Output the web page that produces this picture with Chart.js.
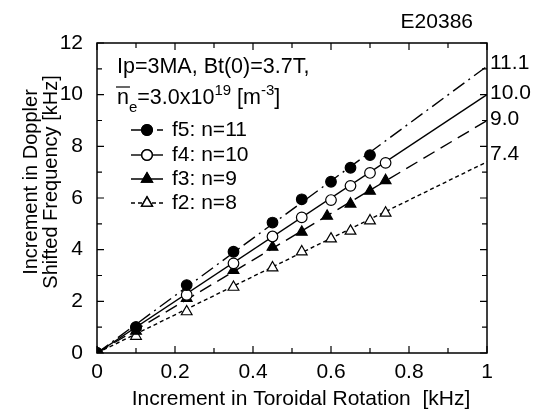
<!DOCTYPE html>
<html lang="en">
  <head>
    <meta charset="UTF-8" />
    <title>Doppler Shift vs Toroidal Rotation</title>
    <style>
      body {
        margin: 0;
        padding: 0;
        background-color: #fff;
      }
      .chart-container {
        width: 536px;
        height: 411px;
        position: relative;
      }
    </style>
  </head>
  <body>
    <div class="chart-container">
      <canvas id="dopplerChart"></canvas>
    </div>

    <script src="https://cdn.jsdelivr.net/npm/chart.js"></script>
    <script>
      // series names and measured points
      const seriesLabels = ["f5: n=11", "f4: n=10", "f3: n=9", "f2: n=8"];
      const f5X = [0, 0.1, 0.23, 0.35, 0.45, 0.525, 0.6, 0.65, 0.7];
      const f5Y = [0, 1.0, 2.63, 3.92, 5.05, 5.95, 6.63, 7.17, 7.66];
      const f4X = [0, 0.1, 0.23, 0.35, 0.45, 0.525, 0.6, 0.65, 0.7, 0.74];
      const f4Y = [0, 1.0, 2.25, 3.47, 4.51, 5.25, 5.92, 6.47, 6.97, 7.36];
      const f3X = [0, 0.1, 0.23, 0.35, 0.45, 0.525, 0.59, 0.65, 0.7, 0.74];
      const f3Y = [0, 0.85, 2.12, 3.2, 4.1, 4.68, 5.3, 5.77, 6.27, 6.68];
      const f2X = [0, 0.1, 0.23, 0.35, 0.45, 0.525, 0.6, 0.65, 0.7, 0.74];
      const f2Y = [0, 0.65, 1.6, 2.55, 3.3, 3.92, 4.42, 4.72, 5.12, 5.42];
      // fitted slopes (kHz / kHz), labelled on the right
      const slopes = [11.1, 10.0, 9.0, 7.4];
      const slopeLabels = ["11.1", "10.0", "9.0", "7.4"];
      const xTicks = [0, 0.2, 0.4, 0.6, 0.8, 1];
      const yTicks = [0, 2, 4, 6, 8, 10, 12];

      const FONT = "'Liberation Sans', Arial, sans-serif";
      const markerStyles = [
        { style: "circle", fill: "#000", r: 5.3 },
        { style: "circle", fill: "#fff", r: 5.3 },
        { style: "triangle", fill: "#000", r: 6.2 },
        { style: "triangle", fill: "#fff", r: 6.2 },
      ];
      const dashes = [[14, 5, 2, 5], [], [13, 7], [4, 3]];

      function toPoints(xs, ys) {
        return xs.map((x, i) => ({ x: x, y: ys[i] }));
      }

      const pointSets = [
        toPoints(f5X, f5Y),
        toPoints(f4X, f4Y),
        toPoints(f3X, f3Y),
        toPoints(f2X, f2Y),
      ];

      const datasets = [];
      pointSets.forEach((pts, i) => {
        datasets.push({
          label: seriesLabels[i],
          data: pts,
          showLine: false,
          pointStyle: markerStyles[i].style,
          pointRadius: markerStyles[i].r,
          pointBackgroundColor: markerStyles[i].fill,
          pointBorderColor: "#000",
          pointBorderWidth: 1.2,
          order: 0,
        });
      });
      slopes.forEach((s, i) => {
        datasets.push({
          label: "fit " + slopeLabels[i],
          data: [
            { x: 0, y: 0 },
            { x: 1, y: s },
          ],
          borderColor: "#000",
          borderWidth: 1.4,
          borderDash: dashes[i],
          pointRadius: 0,
          fill: false,
          order: 1,
        });
      });

      const decorPlugin = {
        id: "decor",
        afterDraw(chart) {
          const ctx = chart.ctx;
          const a = chart.chartArea;
          const xs = chart.scales.x;
          const ys = chart.scales.y;
          ctx.save();
          ctx.strokeStyle = "#000";
          ctx.fillStyle = "#000";

          // frame
          ctx.lineWidth = 1.5;
          ctx.strokeRect(a.left, a.top, a.right - a.left, a.bottom - a.top);

          // inward ticks
          ctx.lineWidth = 1.2;
          for (let k = 0; k <= 10; k++) {
            const px = xs.getPixelForValue(k / 10);
            const len = k % 2 === 0 ? 7 : 5;
            ctx.beginPath();
            ctx.moveTo(px, a.bottom);
            ctx.lineTo(px, a.bottom - len);
            ctx.moveTo(px, a.top);
            ctx.lineTo(px, a.top + len);
            ctx.stroke();
          }
          for (let k = 0; k <= 12; k++) {
            const py = ys.getPixelForValue(k);
            const len = k % 2 === 0 ? 7 : 5;
            ctx.beginPath();
            ctx.moveTo(a.left, py);
            ctx.lineTo(a.left + len, py);
            ctx.moveTo(a.right, py);
            ctx.lineTo(a.right - len, py);
            ctx.stroke();
          }

          // slope labels at right
          ctx.font = "21px " + FONT;
          ctx.textBaseline = "middle";
          ctx.textAlign = "left";
          const labelShift = [0.1, 0.05, 0.05, 0.3];
          slopes.forEach((s, i) => {
            const py = ys.getPixelForValue(s + labelShift[i]);
            ctx.fillText(slopeLabels[i], a.right + 3, py);
          });

          // figure id
          ctx.font = "21px " + FONT;
          ctx.textAlign = "right";
          ctx.fillText("E20386", 473, 22);

          // conditions text
          ctx.textAlign = "left";
          ctx.textBaseline = "alphabetic";
          ctx.font = "21.5px " + FONT;
          ctx.fillText("Ip=3MA, Bt(0)=3.7T,", 117, 73);
          let x = 117;
          const base = 104;
          ctx.fillText("n", x, base);
          const nW = ctx.measureText("n").width;
          ctx.lineWidth = 1.2;
          ctx.beginPath();
          ctx.moveTo(x - 1, 87);
          ctx.lineTo(x + nW + 1, 87);
          ctx.stroke();
          x += nW;
          ctx.font = "15px " + FONT;
          ctx.fillText("e", x, base + 8);
          x += ctx.measureText("e").width;
          ctx.font = "21.5px " + FONT;
          ctx.fillText("=3.0x10", x, base);
          x += ctx.measureText("=3.0x10").width;
          ctx.font = "15px " + FONT;
          ctx.fillText("19", x, base - 9);
          x += ctx.measureText("19").width;
          ctx.font = "21.5px " + FONT;
          ctx.fillText(" [m", x, base);
          x += ctx.measureText(" [m").width;
          ctx.font = "15px " + FONT;
          ctx.fillText("-3", x, base - 9);
          x += ctx.measureText("-3").width;
          ctx.font = "21.5px " + FONT;
          ctx.fillText("]", x, base);

          // legend
          const rows = [130, 155, 179, 203];
          seriesLabels.forEach((lab, i) => {
            const cy = rows[i];
            ctx.lineWidth = 1.4;
            ctx.setLineDash(dashes[i]);
            ctx.beginPath();
            ctx.moveTo(131, cy);
            ctx.lineTo(163, cy);
            ctx.stroke();
            ctx.setLineDash([]);
            ctx.fillStyle = markerStyles[i].fill;
            Chart.helpers.drawPoint(
              ctx,
              {
                pointStyle: markerStyles[i].style,
                radius: markerStyles[i].r,
                borderWidth: 1.2,
              },
              147,
              cy
            );
            ctx.fill();
            ctx.stroke();
            ctx.fillStyle = "#000";
            ctx.font = "21px " + FONT;
            ctx.textBaseline = "middle";
            ctx.fillText(lab, 172, cy);
          });

          // axis titles
          ctx.font = "21px " + FONT;
          ctx.textAlign = "center";
          ctx.textBaseline = "middle";
          ctx.fillText("Increment in Toroidal Rotation  [kHz]", 301, 399);
          ctx.save();
          ctx.font = "20px " + FONT;
          ctx.translate(0, 182);
          ctx.rotate(-Math.PI / 2);
          ctx.fillText("Increment in Doppler", 0, 31);
          ctx.fillText("Shifted Frequency [kHz]", 0, 51);
          ctx.restore();

          ctx.restore();
        },
      };

      const ctx = document.getElementById("dopplerChart").getContext("2d");
      new Chart(ctx, {
        type: "line",
        data: { datasets: datasets },
        options: {
          responsive: true,
          maintainAspectRatio: false,
          animation: false,
          layout: { padding: { top: 43, right: 49, left: 0, bottom: 0 } },
          scales: {
            x: {
              type: "linear",
              min: 0,
              max: 1,
              afterFit: (s) => {
                s.height = 58;
              },
              afterBuildTicks: (s) => {
                s.ticks = xTicks.map((v) => ({ value: v }));
              },
              grid: { display: false, drawTicks: false },
              border: { display: false },
              ticks: {
                color: "#000",
                padding: 7,
                font: { size: 21, family: FONT },
                callback: (v) => (v === 0 ? "0" : v === 1 ? "1" : v.toFixed(1)),
              },
            },
            y: {
              type: "linear",
              min: 0,
              max: 12,
              afterFit: (s) => {
                s.width = 97;
              },
              afterBuildTicks: (s) => {
                s.ticks = yTicks.map((v) => ({ value: v }));
              },
              grid: { display: false, drawTicks: false },
              border: { display: false },
              ticks: {
                color: "#000",
                padding: 14,
                font: { size: 21, family: FONT },
              },
            },
          },
          plugins: {
            legend: { display: false },
            tooltip: { enabled: false },
          },
        },
        plugins: [decorPlugin],
      });
    </script>
  </body>
</html>
